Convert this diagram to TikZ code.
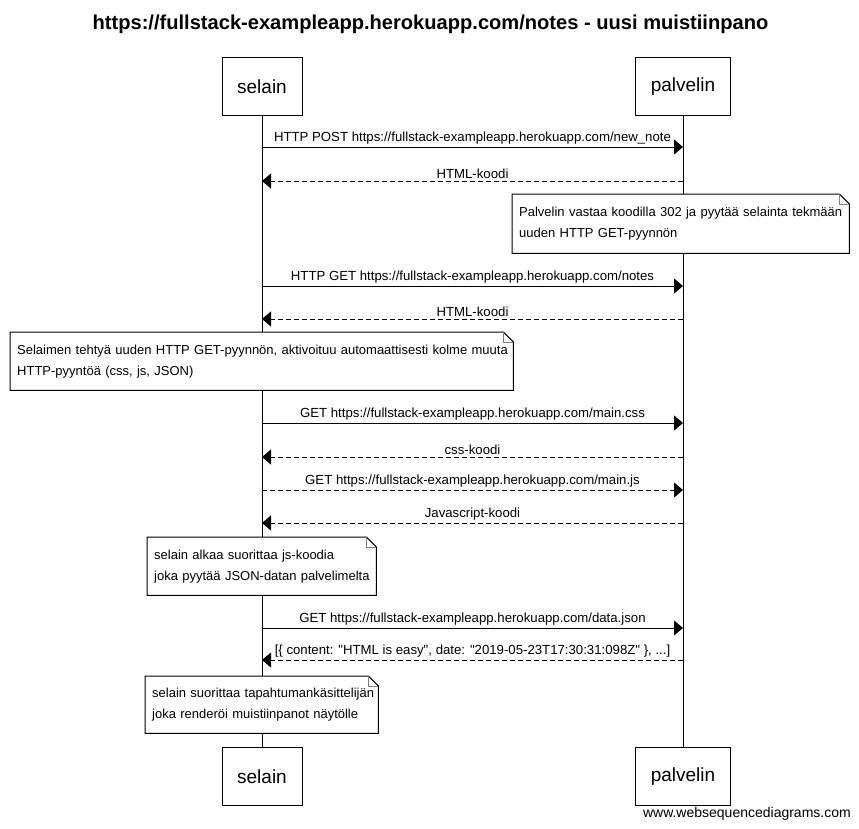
\documentclass[tikz,border=0pt]{standalone}
\usepackage{fontspec}
\setmainfont{Liberation Sans}
\newfontfamily\plainsans{Liberation Sans}
\usetikzlibrary{arrows.meta,calc}
\begin{document}
\begin{tikzpicture}[x=1pt,y=-1pt,
  participant/.style={draw, line width=1pt, minimum height=58pt, inner sep=0pt, font=\fontsize{19}{21}\selectfont},
  msg/.style={line width=1pt, -{Triangle[length=9pt,width=15pt]}},
  reply/.style={msg, dash pattern=on 5pt off 3pt},
  lbl/.style={midway, above, inner sep=2pt, font=\fontsize{13.2}{15}\selectfont},
  notebox/.style={anchor=north west, fill=white, inner xsep=7pt, inner ysep=0pt, align=left, font=\fontsize{13}{21}\selectfont},
  notefr/.style={line width=1pt},
  fold/.style={line width=0.6pt, gray}
]
\useasboundingbox (0,0) rectangle (859,828);
\fill[white] (0,0) rectangle (859,828);

% title
\node[font=\bfseries\fontsize{20.1}{22}\selectfont] (title) at (430.5,24) {https://fullstack-exampleapp.herokuapp.com/notes - uusi muistiinpano};

% participants
\node[participant, minimum width=80pt] (s1) at (262,86.5) {selain};
\node[participant, minimum width=95pt] (p1) at (683,86.5) {palvelin};
\node[participant, minimum width=80pt] (s2) at (262,776.5) {selain};
\node[participant, minimum width=95pt] (p2) at (683,776.5) {palvelin};

% lifelines
\draw[line width=1pt] (s1) -- (s2);
\draw[line width=1pt] (p1) -- (p2);

% message end points
\coordinate (a1) at (262,147);  \coordinate (b1) at (683,147);
\coordinate (a2) at (262,181);  \coordinate (b2) at (683,181);
\coordinate (a3) at (262,286);  \coordinate (b3) at (683,286);
\coordinate (a4) at (262,319);  \coordinate (b4) at (683,319);
\coordinate (a5) at (262,423);  \coordinate (b5) at (683,423);
\coordinate (a6) at (262,457);  \coordinate (b6) at (683,457);
\coordinate (a7) at (262,490);  \coordinate (b7) at (683,490);
\coordinate (a8) at (262,523);  \coordinate (b8) at (683,523);
\coordinate (a9) at (262,628);  \coordinate (b9) at (683,628);
\coordinate (a10) at (262,660); \coordinate (b10) at (683,660);

\draw[msg] (a1) -- node[lbl]{HTTP POST https://fullstack-exampleapp.herokuapp.com/new\_note} (b1);
\draw[reply] (b2) -- node[lbl]{HTML-koodi} (a2);
\draw[msg] (a3) -- node[lbl]{HTTP GET https://fullstack-exampleapp.herokuapp.com/notes} (b3);
\draw[reply] (b4) -- node[lbl]{HTML-koodi} (a4);
\draw[msg] (a5) -- node[lbl]{GET https://fullstack-exampleapp.herokuapp.com/main.css} (b5);
\draw[reply] (b6) -- node[lbl]{css-koodi} (a6);
\draw[reply] (a7) -- node[lbl]{GET https://fullstack-exampleapp.herokuapp.com/main.js} (b7);
\draw[reply] (b8) -- node[lbl]{Javascript-koodi} (a8);
\draw[msg] (a9) -- node[lbl]{GET https://fullstack-exampleapp.herokuapp.com/data.json} (b9);
\draw[reply] (b10) -- node[lbl]{\plainsans [\{ content: "HTML is easy", date: "2019-05-23T17:30:31:098Z" \}, ...]} (a10);

% notes
\node[notebox, text width=323pt, minimum height=59pt] (n1) at (512,194)
  {\mbox{Palvelin vastaa koodilla 302 ja pyytää selainta tekmään}\\\mbox{uuden HTTP GET-pyynnön}};
\node[notebox, text width=489pt, minimum height=58pt] (n2) at (10,332)
  {\mbox{Selaimen tehtyä uuden HTTP GET-pyynnön, aktivoituu automaattisesti kolme muuta}\\\mbox{HTTP-pyyntöä (css, js, JSON)}};
\node[notebox, text width=215pt, minimum height=58pt] (n3) at (147,537)
  {\mbox{selain alkaa suorittaa js-koodia}\\\mbox{joka pyytää JSON-datan palvelimelta}};
\node[notebox, text width=219pt, minimum height=57pt] (n4) at (145,676)
  {\mbox{selain suorittaa tapahtumankäsittelijän}\\\mbox{joka renderöi muistiinpanot näytölle}};

\foreach \n in {n1,n2,n3,n4}{
  \draw[notefr] (\n.north west) -- ($(\n.north east)+(-10,0)$) -- ($(\n.north east)+(0,10)$) -- (\n.south east) -- (\n.south west) -- cycle;
  \draw[fold] ($(\n.north east)+(-10,0)$) -- ($(\n.north east)+(-10,10)$) -- ($(\n.north east)+(0,10)$);
}

% watermark
\node[anchor=base east, inner sep=0pt, font=\fontsize{14}{16}\selectfont] (wm) at (851,817) {www.websequencediagrams.com};
\end{tikzpicture}
\end{document}
